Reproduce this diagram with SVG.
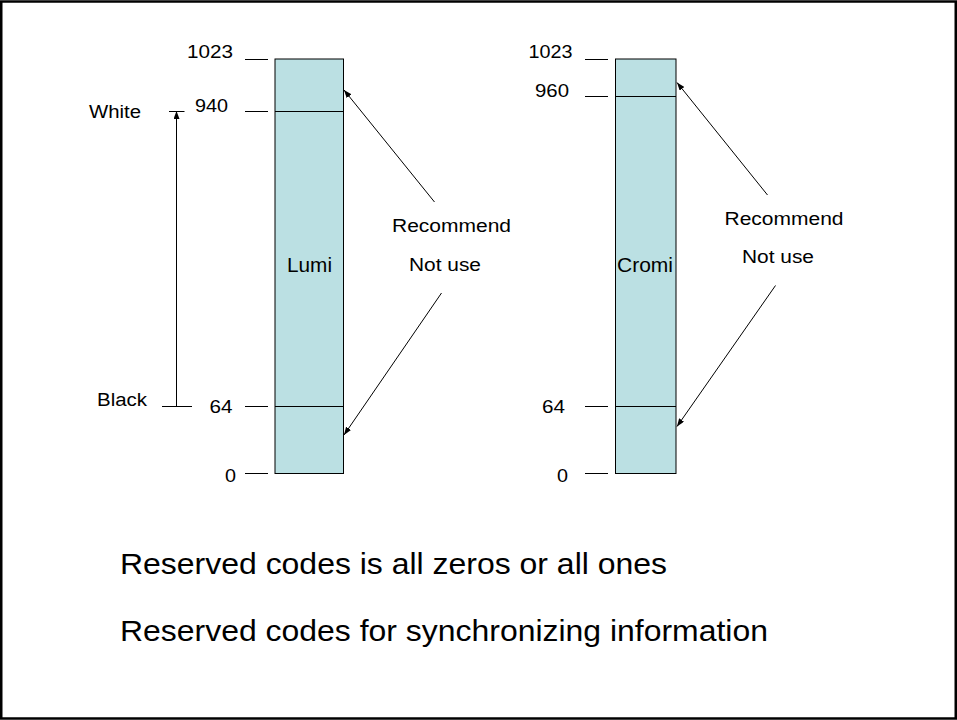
<svg xmlns="http://www.w3.org/2000/svg" width="957" height="720" viewBox="0 0 957 720">
<style>
text{font-family:"Liberation Sans",Arial,sans-serif;fill:#000}
.s{font-size:18px}
.m{font-size:20px}
.b{font-size:30px}
.bar{fill:#BBE0E3;stroke:#000;stroke-width:1}
.ln{stroke:#000;stroke-width:1;fill:none}
</style>
<defs>
<marker id="ah" markerWidth="8" markerHeight="6" refX="8" refY="3" orient="auto" markerUnits="userSpaceOnUse">
<path d="M0,0 L8,3 L0,6 Z" fill="#000"/>
</marker>
</defs>
<rect x="0" y="0" width="957" height="720" fill="#fff"/>
<rect x="1.25" y="1.5" width="954.5" height="717" fill="none" stroke="#000" stroke-width="2.5"/>

<g id="lumi">
<rect class="bar" x="275" y="59" width="68.5" height="414.5"/>
<line class="ln" x1="275" y1="111.5" x2="343.5" y2="111.5"/>
<line class="ln" x1="275" y1="406.5" x2="343.5" y2="406.5"/>
<text class="m" x="287" y="272" textLength="45" lengthAdjust="spacingAndGlyphs">Lumi</text>
</g>
<g id="lumi-scale">
<line class="ln" x1="245" y1="59.5" x2="268" y2="59.5"/>
<line class="ln" x1="245" y1="111.5" x2="268" y2="111.5"/>
<line class="ln" x1="245" y1="406.5" x2="268" y2="406.5"/>
<line class="ln" x1="245" y1="473.5" x2="268" y2="473.5"/>
<text class="s" x="187" y="58" textLength="46" lengthAdjust="spacingAndGlyphs">1023</text>
<text class="s" x="195" y="112" textLength="33" lengthAdjust="spacingAndGlyphs">940</text>
<text class="s" x="209.5" y="413" textLength="23" lengthAdjust="spacingAndGlyphs">64</text>
<text class="s" x="225" y="482" textLength="11" lengthAdjust="spacingAndGlyphs">0</text>
</g>
<g id="range">
<line class="ln" x1="169" y1="111.5" x2="184.5" y2="111.5"/>
<line class="ln" x1="162" y1="406.5" x2="192" y2="406.5"/>
<text class="s" x="89" y="118" textLength="52" lengthAdjust="spacingAndGlyphs">White</text>
<text class="s" x="97" y="406" textLength="50" lengthAdjust="spacingAndGlyphs">Black</text>
</g>
<g id="lumi-note">
<text class="s" x="392" y="232" textLength="119" lengthAdjust="spacingAndGlyphs">Recommend</text>
<text class="s" x="409" y="271" textLength="72" lengthAdjust="spacingAndGlyphs">Not use</text>
</g>

<g id="cromi">
<rect class="bar" x="615.5" y="59" width="60.5" height="414.5"/>
<line class="ln" x1="615.5" y1="96.5" x2="676" y2="96.5"/>
<line class="ln" x1="615.5" y1="406.5" x2="676" y2="406.5"/>
<text class="m" x="617" y="272" textLength="56" lengthAdjust="spacingAndGlyphs">Cromi</text>
</g>
<g id="cromi-scale">
<line class="ln" x1="585" y1="59.5" x2="608" y2="59.5"/>
<line class="ln" x1="585" y1="96.5" x2="608" y2="96.5"/>
<line class="ln" x1="585" y1="406.5" x2="608" y2="406.5"/>
<line class="ln" x1="585" y1="473.5" x2="608" y2="473.5"/>
<text class="s" x="528.5" y="58" textLength="44" lengthAdjust="spacingAndGlyphs">1023</text>
<text class="s" x="535" y="97" textLength="34" lengthAdjust="spacingAndGlyphs">960</text>
<text class="s" x="542" y="413" textLength="23" lengthAdjust="spacingAndGlyphs">64</text>
<text class="s" x="557" y="482" textLength="11" lengthAdjust="spacingAndGlyphs">0</text>
</g>
<g id="cromi-note">
<text class="s" x="724.5" y="225" textLength="119" lengthAdjust="spacingAndGlyphs">Recommend</text>
<text class="s" x="742" y="263" textLength="72" lengthAdjust="spacingAndGlyphs">Not use</text>
</g>

<g id="connectors">
<line class="ln" x1="176.5" y1="406.5" x2="176.5" y2="111" marker-end="url(#ah)"/>
<line class="ln" x1="434.5" y1="202" x2="344" y2="90" marker-end="url(#ah)"/>
<line class="ln" x1="441.5" y1="293" x2="344" y2="435" marker-end="url(#ah)"/>
<line class="ln" x1="767.5" y1="195" x2="677" y2="82.5" marker-end="url(#ah)"/>
<line class="ln" x1="775.5" y1="285.5" x2="677" y2="426.5" marker-end="url(#ah)"/>
</g>

<g id="notes">
<text class="b" x="120" y="574" textLength="547" lengthAdjust="spacingAndGlyphs">Reserved codes is all zeros or all ones</text>
<text class="b" x="120" y="641" textLength="648" lengthAdjust="spacingAndGlyphs">Reserved codes for synchronizing information</text>
</g>
</svg>
